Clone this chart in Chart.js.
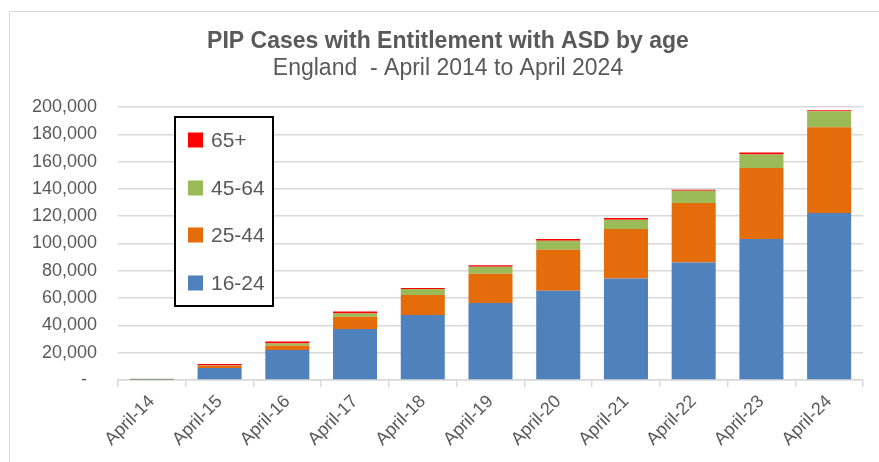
<!DOCTYPE html>
<html>
<head>
<meta charset="utf-8">
<script src="https://cdn.jsdelivr.net/npm/chart.js@4/dist/chart.umd.min.js"></script>
<style>
html,body{margin:0;padding:0;background:#fff;}
#frame{position:absolute;left:9px;top:11px;width:1000px;height:600px;border:1.5px solid #d9d9d9;}
#wrap{position:absolute;left:0;top:0;width:879px;height:462px;}
</style>
</head>
<body>
<div id="frame"></div>
<div id="wrap"><canvas id="c" width="879" height="462"></canvas></div>
<script>
const categories = ['April-14','April-15','April-16','April-17','April-18','April-19','April-20','April-21','April-22','April-23','April-24'];
const age16to24 = [200, 8800, 22000, 37300, 47700, 56500, 65300, 74300, 86000, 103300, 122300];
const age25to44 = [100, 1400, 3100, 9000, 14650, 21400, 30200, 36300, 43600, 52100, 62900];
const age45to64 = [700, 500, 1700, 2400, 4400, 5150, 6600, 6800, 9000, 9800, 11700];
const age65plus = [0, 1000, 1400, 1400, 700, 1000, 1200, 1250, 750, 1500, 750];
const seriesNames = ['16-24','25-44','45-64','65+'];
const yTicks = [0,20000,40000,60000,80000,100000,120000,140000,160000,180000,200000];
const titleText = 'PIP Cases with Entitlement with ASD by age';
const subtitleText = 'England  - April 2014 to April 2024';

const colors = ['#4F81BD','#E46C0A','#9BBB59','#FF0000'];
const seriesData = [age16to24, age25to44, age45to64, age65plus];
const textColor = '#595959';
const fontFamily = '"Liberation Sans", Arial, sans-serif';

const decor = {
  id: 'decor',
  afterDraw(chart) {
    const ctx = chart.ctx;
    ctx.save();
    ctx.fillStyle = textColor;
    ctx.textAlign = 'center';
    ctx.textBaseline = 'middle';
    ctx.font = 'bold 23px ' + fontFamily;
    ctx.fillText(titleText, 448, 42);
    ctx.font = '23px ' + fontFamily;
    ctx.fillText(subtitleText, 448, 69);
    // legend
    ctx.fillStyle = '#fff';
    ctx.fillRect(175, 117, 98, 189);
    ctx.strokeStyle = '#000';
    ctx.lineWidth = 2;
    ctx.strokeRect(175, 117, 98, 189);
    const ds = chart.data.datasets;
    const centers = [283, 235, 188, 140];
    ctx.textAlign = 'left';
    ctx.font = '21px ' + fontFamily;
    ds.forEach((d, i) => {
      const cy = centers[i];
      ctx.fillStyle = d.backgroundColor;
      ctx.fillRect(188, cy - 7.5, 15, 15);
      ctx.fillStyle = textColor;
      ctx.fillText(d.label, 211, cy + 1);
    });
    ctx.restore();
  }
};

new Chart(document.getElementById('c'), {
  type: 'bar',
  data: {
    labels: categories,
    datasets: seriesNames.map((n, i) => ({
      label: n,
      data: seriesData[i],
      backgroundColor: colors[i],
      borderWidth: 0,
      barPercentage: 0.65,
      categoryPercentage: 1.0
    }))
  },
  options: {
    responsive: false,
    animation: false,
    layout: { padding: { left: 0, right: 16, top: 107, bottom: 0 } },
    plugins: { legend: { display: false }, title: { display: false }, tooltip: { enabled: false } },
    scales: {
      x: {
        stacked: true,
        grid: { offset: true, drawOnChartArea: false, drawTicks: true, tickLength: 7, color: '#d9d9d9', lineWidth: 1.5 },
        border: { color: '#d9d9d9', width: 1.5 },
        ticks: { color: textColor, font: { family: fontFamily, size: 18 }, minRotation: 45, maxRotation: 45, padding: 4 },
        afterFit(scale) { scale.height = 82; }
      },
      y: {
        stacked: true,
        min: 0, max: 200000,
        afterBuildTicks(scale) { scale.ticks = yTicks.map(v => ({ value: v })); },
        grid: { color: '#d9d9d9', lineWidth: 1.5, drawTicks: false },
        border: { display: false },
        ticks: {
          color: textColor, font: { family: fontFamily, size: 18 }, padding: 21,
          callback: v => v === 0 ? '-  ' : v.toLocaleString('en-GB')
        },
        afterFit(scale) { scale.width = 118; }
      }
    }
  },
  plugins: [decor]
});
</script>
</body>
</html>
